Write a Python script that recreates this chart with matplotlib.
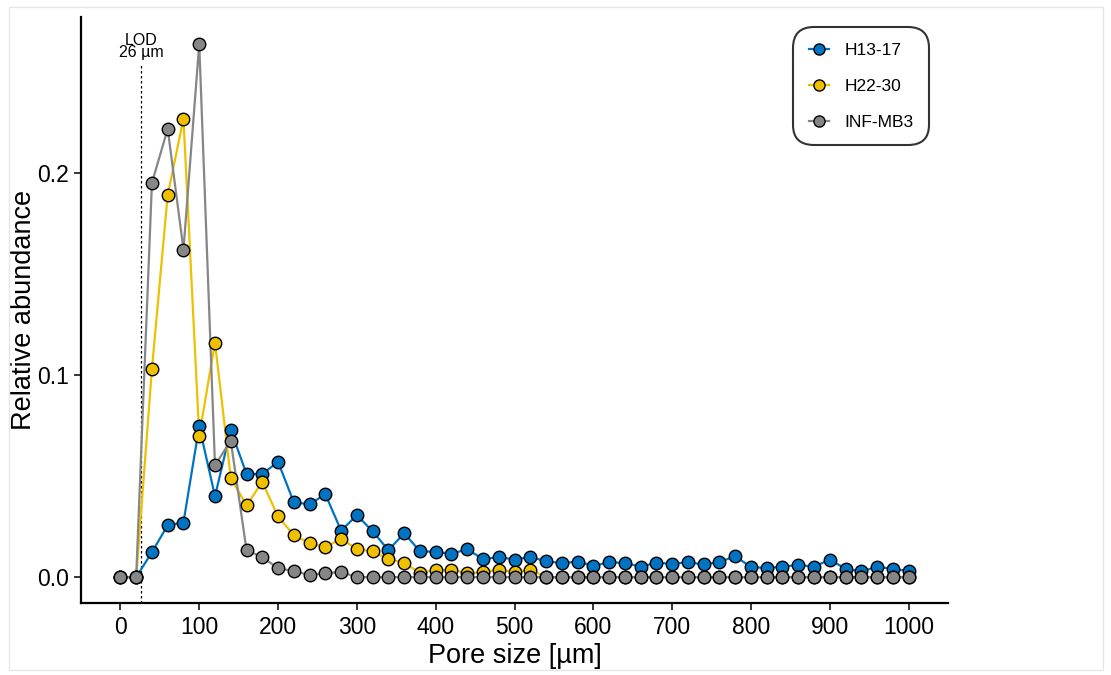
import matplotlib
matplotlib.use("Agg")
import matplotlib.pyplot as plt
from matplotlib.patches import Rectangle

plt.rcParams['font.family'] = ['Liberation Sans', 'DejaVu Sans']

pore_size = list(range(0, 1001, 20))

h13_17 = [0, 0, 0.0123, 0.0257, 0.027, 0.0746, 0.040, 0.0728, 0.051, 0.051,
          0.057, 0.037, 0.036, 0.041, 0.023, 0.0306, 0.0227, 0.0133, 0.0217, 0.0128,
          0.0125, 0.0115, 0.0138, 0.0089, 0.0099, 0.0087, 0.0099, 0.0079, 0.0069, 0.0077,
          0.0056, 0.0073, 0.0071, 0.0051, 0.0071, 0.0066, 0.0073, 0.0063, 0.0074, 0.0104,
          0.0049, 0.0046, 0.0051, 0.0061, 0.0051, 0.0087, 0.0041, 0.0028, 0.0051, 0.0041,
          0.003]

h22_30 = [0, 0, 0.103, 0.189, 0.2267, 0.070, 0.116, 0.049, 0.0355, 0.047,
          0.030, 0.0207, 0.0168, 0.0148, 0.019, 0.0138, 0.0128, 0.0089, 0.0071, 0.002,
          0.0035, 0.0035, 0.002, 0.0025, 0.0037, 0.0025, 0.0037] + [0] * 24

inf_mb3 = [0, 0, 0.195, 0.2217, 0.162, 0.2637, 0.0553, 0.0675, 0.0133, 0.0099,
           0.0044, 0.003, 0.001, 0.002, 0.0025] + [0] * 36

series_names = ["H13-17", "H22-30", "INF-MB3"]
series_colors = ["#0073C2", "#EFC000", "#868686"]
lod = 26

fig = plt.figure(figsize=(11.11, 6.75), dpi=100)
ax = fig.add_axes([81 / 1111, 1 - 603 / 675, (948 - 81) / 1111, (603 - 17) / 675])

fig.patches.append(Rectangle((9 / 1111, 1 - 670 / 675), (1103 - 9) / 1111, (670 - 7) / 675,
                             transform=fig.transFigure, fill=False, edgecolor="#e6e6e6",
                             linewidth=1.0))

data = [h13_17, h22_30, inf_mb3]
for vals, col in zip(data, series_colors):
    ax.plot(pore_size, vals, color=col, linewidth=1.6, zorder=2)
handles = []
for vals, col, name in zip(data, series_colors, series_names):
    ax.plot(pore_size, vals, linestyle="none", marker="o", markersize=9,
            markerfacecolor=col, markeredgecolor="black", markeredgewidth=1.0, zorder=3)
    h, = ax.plot([], [], color=col, linewidth=1.6, marker="o", markersize=8,
                 markerfacecolor=col, markeredgecolor="black", markeredgewidth=1.0, label=name)
    handles.append(h)

ax.plot([lod, lod], [-0.0128, 0.254], linestyle=(0, (2, 2)), color="black", linewidth=0.9, zorder=1)
ax.text(lod, 0.2555, "LOD\n26 µm", ha="center", va="bottom", fontsize=11.5, linespacing=0.8)

ax.set_xlim(-50, 1050)
ax.set_ylim(-0.0128, 0.277)
ax.set_xticks(range(0, 1001, 100))
ax.set_yticks([0.0, 0.1, 0.2])
ax.set_yticklabels(["0.0", "0.1", "0.2"])
ax.tick_params(axis="both", labelsize=16.5, length=5, width=1.1, colors="black", pad=4)
for s in ["top", "right"]:
    ax.spines[s].set_visible(False)
for s in ["left", "bottom"]:
    ax.spines[s].set_linewidth(1.6)

ax.set_xlabel("Pore size [µm]", fontsize=19.5, labelpad=3)
ax.set_ylabel("Relative abundance", fontsize=19.5, labelpad=0)

leg = ax.legend(handles=handles, loc="upper left", bbox_to_anchor=((793 - 81) / 867, 1 - (27 - 17) / 586),
                frameon=True, fontsize=12.5, fancybox=True, handlelength=1.15,
                borderpad=0.9, labelspacing=1.2, handletextpad=0.9, borderaxespad=0)
leg.get_frame().set_edgecolor("black")
leg.get_frame().set_linewidth(1.5)
leg.get_frame().set_boxstyle("round", pad=0.0, rounding_size=1.2)

fig.savefig("out.png", dpi=100)
